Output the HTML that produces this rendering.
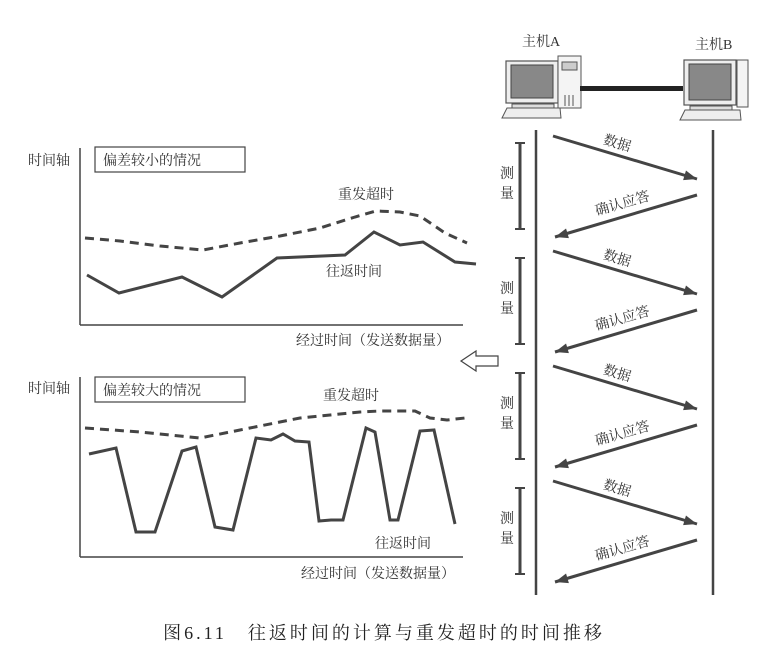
<!DOCTYPE html>
<html><head><meta charset="utf-8"><style>
html,body{margin:0;padding:0;background:#fff;}
svg{display:block;font-family:"Liberation Serif","Noto Serif CJK SC","Noto Sans CJK SC",serif;}
.t{font-size:14px;fill:#333;}
</style></head><body>
<svg id="fig" width="769" height="661" viewBox="0 0 769 661" xmlns="http://www.w3.org/2000/svg">
<rect width="769" height="661" fill="#fff"/>
<g>
<line x1="80" y1="148" x2="80" y2="325" stroke="#444" stroke-width="1.5"/>
<line x1="80" y1="325" x2="463" y2="325" stroke="#444" stroke-width="1.5"/>
<text class="t" x="28" y="165">时间轴</text>
<rect x="95" y="147" width="150" height="25" fill="#fff" stroke="#444" stroke-width="1.2"/>
<text class="t" x="103" y="165">偏差较小的情况</text>
<text class="t" x="338" y="199">重发超时</text>
<text class="t" x="326" y="276">往返时间</text>
<text class="t" x="296" y="345">经过时间（发送数据量）</text>
<polyline id="topDash" fill="none" stroke="#444" stroke-width="3" stroke-dasharray="9,6"/>
<polyline id="topSolid" fill="none" stroke="#444" stroke-width="3" stroke-linejoin="miter"/>
</g>
<g>
<line x1="80" y1="377" x2="80" y2="557" stroke="#444" stroke-width="1.5"/>
<line x1="80" y1="557" x2="463" y2="557" stroke="#444" stroke-width="1.5"/>
<text class="t" x="28" y="393">时间轴</text>
<rect x="95" y="377" width="150" height="25" fill="#fff" stroke="#444" stroke-width="1.2"/>
<text class="t" x="103" y="395">偏差较大的情况</text>
<text class="t" x="323" y="400">重发超时</text>
<text class="t" x="375" y="548">往返时间</text>
<text class="t" x="301" y="578">经过时间（发送数据量）</text>
<polyline id="botDash" fill="none" stroke="#444" stroke-width="3" stroke-dasharray="9,6"/>
<polyline id="botSolid" fill="none" stroke="#444" stroke-width="3"/>
</g>
<polygon points="461,361 476,351 476,356 498,356 498,366 476,366 476,371" fill="#fff" stroke="#444" stroke-width="1.2"/>
<g>
<text class="t" x="522" y="46">主机A</text>
<rect x="506" y="61" width="52" height="42" fill="#eee" stroke="#555" stroke-width="1.2"/>
<rect x="511" y="65" width="42" height="33" fill="#888" stroke="#444"/>
<rect x="558" y="56" width="23" height="52" fill="#f4f4f4" stroke="#555"/>
<rect x="562" y="62" width="15" height="8" fill="#ccc" stroke="#555"/>
<line x1="565" y1="95" x2="565" y2="106" stroke="#555"/><line x1="569" y1="95" x2="569" y2="106" stroke="#555"/><line x1="573" y1="95" x2="573" y2="106" stroke="#555"/>
<rect x="512" y="104" width="42" height="4" fill="#ddd" stroke="#555"/>
<polygon points="502,118 507,108 560,108 561,118" fill="#eee" stroke="#555"/>
</g>
<rect x="580" y="86" width="103" height="5" fill="#222"/>
<g>
<text class="t" x="695" y="49">主机B</text>
<rect x="684" y="60" width="52" height="45" fill="#eee" stroke="#555" stroke-width="1.2"/>
<rect x="689" y="64" width="42" height="36" fill="#888" stroke="#444"/>
<rect x="737" y="60" width="11" height="47" fill="#f4f4f4" stroke="#555"/>
<rect x="690" y="106" width="42" height="4" fill="#ddd" stroke="#555"/>
<polygon points="680,120 685,110 740,110 741,120" fill="#eee" stroke="#555"/>
</g>
<line x1="536" y1="130" x2="536" y2="595" stroke="#444" stroke-width="2.5"/>
<line x1="713" y1="130" x2="713" y2="595" stroke="#444" stroke-width="2.5"/>
<g id="exchanges"></g>
<text x="384" y="639" text-anchor="middle" style="font-size:18px;letter-spacing:3px" fill="#222">图6.11　往返时间的计算与重发超时的时间推移</text>
</svg>
<script>
const topRttX = [7,39,102,142,197,265,294,320,343,375,396];
const topRttY = [50,32,48,28,67,70,93,80,83,63,61];
const topRtoX = [5,40,80,123,160,200,240,275,296,320,340,365,387];
const topRtoY = [87,84,79,75,82,89,97,108,114,113,109,92,82];
const botRttX = [9,36,56,75,102,116,135,153,176,191,203,215,229,239,251,263,286,295,310,318,340,354,375];
const botRttY = [103,109,25,25,106,110,30,27,119,117,123,116,115,36,37,37,129,125,37,37,126,127,33];
const botRtoX = [5,60,120,160,220,280,300,335,350,367,385];
const botRtoY = [129,125,119,127,139,145,146,146,139,137,139];
const exchangeStarts = [136,251,366,481];

const xs = t => 80 + t;
const ysTop = v => 325 - v;
const ysBot = v => 557 - v;
function pts(X,Y,ys){return X.map((x,i)=>xs(x)+','+ys(Y[i])).join(' ');}
document.getElementById('topSolid').setAttribute('points',pts(topRttX,topRttY,ysTop));
document.getElementById('topDash').setAttribute('points',pts(topRtoX,topRtoY,ysTop));
document.getElementById('botSolid').setAttribute('points',pts(botRttX,botRttY,ysBot));
document.getElementById('botDash').setAttribute('points',pts(botRtoX,botRtoY,ysBot));

const NS='http://www.w3.org/2000/svg';
const g=document.getElementById('exchanges');
function mk(tag,attrs){const e=document.createElementNS(NS,tag);for(const k in attrs)e.setAttribute(k,attrs[k]);g.appendChild(e);return e;}
function arrow(x1,y1,x2,y2){
  const l=mk('line',{x1:x1,y1:y1,x2:x2,y2:y2,stroke:'#444','stroke-width':3});
  
  
  const a=Math.atan2(y2-y1,x2-x1),L=13,W=5;
  const bx=x2-L*Math.cos(a),by=y2-L*Math.sin(a);
  const p=mk('polygon',{points:`${x2},${y2} ${bx-W*Math.sin(a)},${by+W*Math.cos(a)} ${bx+W*Math.sin(a)},${by-W*Math.cos(a)}`,fill:'#444'});
  
  
}
exchangeStarts.forEach(s=>{
  arrow(553,s,697,s+43);
  arrow(697,s+59,555,s+101);
  const t1=mk('text',{x:603,y:s+12,transform:`rotate(16 618 ${s+8})`,'class':'t'});
  t1.textContent='数据';
  
  
  const t2=mk('text',{x:594,y:s+72,transform:`rotate(-16 622 ${s+66})`,'class':'t'});
  t2.textContent='确认应答';
  
  
  const b=mk('line',{x1:520,y1:s+7,x2:520,y2:s+93,stroke:'#444','stroke-width':3});
  
  
  mk('line',{x1:515,y1:s+7,x2:525,y2:s+7,stroke:'#444','stroke-width':2});
  mk('line',{x1:515,y1:s+93,x2:525,y2:s+93,stroke:'#444','stroke-width':2});
  const m1=mk('text',{x:500,y:s+42,'class':'t'});
  m1.textContent='测';
  
  
  const m2=mk('text',{x:500,y:s+62,'class':'t'});
  m2.textContent='量';
  
  
});
</script>
</body></html>
